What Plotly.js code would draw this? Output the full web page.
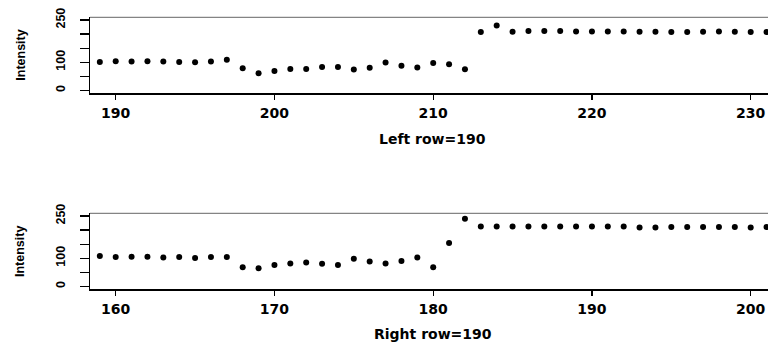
<!DOCTYPE html>
<html>
<head>
<meta charset="utf-8">
<script src="https://cdn.plot.ly/plotly-3.0.1.min.js"></script>
<style>html,body{margin:0;padding:0;background:#fff;}#chart{width:768px;height:345px;}</style>
</head>
<body>
<div id="chart"></div>
<script>
var leftX = [189,190,191,192,193,194,195,196,197,198,199,200,201,202,203,204,205,206,207,208,209,210,211,212,213,214,215,216,217,218,219,220,221,222,223,224,225,226,227,228,229,230,231];
var leftY = [101,103,102,103,102,101,100,102,109,78,61,69,76,76,83,83,74,80,99,87,81,97,93,75,207,230,208,211,211,211,209,209,209,209,208,208,207,207,208,209,208,207,207];
var rightX = [159,160,161,162,163,164,165,166,167,168,169,170,171,172,173,174,175,176,177,178,179,180,181,182,183,184,185,186,187,188,189,190,191,192,193,194,195,196,197,198,199,200,201];
var rightY = [108,104,105,105,102,104,101,104,104,68,64,76,81,85,80,76,98,88,81,90,102,68,154,240,213,213,213,213,213,213,213,213,213,213,209,209,211,211,211,211,211,209,211];
var yTickVals = [0,50,100,150,200,250];
var yTickText = ["0","","100","","","250"];
var titleTop = "Left row=190";
var titleBottom = "Right row=190";
var yTitle = "Intensity";

var marker = {color:'black', size:6, symbol:'circle'};
var traces = [
  {x:leftX, y:leftY, type:'scatter', mode:'markers', marker:marker, xaxis:'x', yaxis:'y', hoverinfo:'x+y'},
  {x:rightX, y:rightY, type:'scatter', mode:'markers', marker:marker, xaxis:'x2', yaxis:'y2', hoverinfo:'x+y'}
];

var xFont = {family:'DejaVu Sans', size:14, color:'black', weight:'bold'};
var yFont = {family:'Liberation Sans', size:12.5, color:'black', weight:'bold'};
var yTitleFont = {family:'Liberation Sans', size:12.5, color:'black', weight:'bold'};
var xDom = [90/768, 1];

function xa(range, anchor){
  return {domain:xDom, range:range, anchor:anchor, showline:true, linecolor:'black', linewidth:1.3,
    ticks:'outside', ticklen:5, tickcolor:'black', tickwidth:1.2, showgrid:false, zeroline:false,
    tick0:0, dtick:10, tickfont:xFont, ticklabelstandoff:2, fixedrange:true};
}
function ya(domain, anchor){
  return {domain:domain, range:[-10.7,259.6], anchor:anchor, showline:true, linecolor:'black', linewidth:1.3,
    ticks:'outside', ticklen:9, tickcolor:'black', tickwidth:1.2, showgrid:false, zeroline:false,
    tickmode:'array', tickvals:yTickVals, ticktext:yTickText, tickangle:-90, tickfont:yFont,
    ticklabelstandoff:10, fixedrange:true};
}

var layout = {
  width:768, height:345, margin:{l:0,r:0,t:0,b:0}, showlegend:false,
  paper_bgcolor:'white', plot_bgcolor:'white',
  xaxis: xa([188.381, 231.09], 'y'),
  yaxis: ya([1-93.3/345, 1-17.3/345], 'x'),
  xaxis2: xa([158.381, 201.09], 'y2'),
  yaxis2: ya([1-289.3/345, 1-213.3/345], 'x2'),
  shapes: [
    {type:'line', xref:'paper', yref:'y domain', x0:xDom[0], x1:1, y0:1, y1:1, line:{color:'#666', width:1}},
    {type:'line', xref:'paper', yref:'y2 domain', x0:xDom[0], x1:1, y0:1, y1:1, line:{color:'#666', width:1}}
  ],
  annotations: [
    {text:titleTop, xref:'paper', yref:'paper', x:432/768, y:1-139.3/345, xanchor:'center', yanchor:'middle', showarrow:false, font:xFont},
    {text:titleBottom, xref:'paper', yref:'paper', x:433/768, y:1-334.3/345, xanchor:'center', yanchor:'middle', showarrow:false, font:xFont},
    {text:yTitle, xref:'paper', yref:'paper', x:20.7/768, y:1-55/345, xanchor:'center', yanchor:'middle', textangle:-90, showarrow:false, font:yTitleFont},
    {text:yTitle, xref:'paper', yref:'paper', x:20.7/768, y:1-251.3/345, xanchor:'center', yanchor:'middle', textangle:-90, showarrow:false, font:yTitleFont}
  ]
};
Plotly.newPlot('chart', traces, layout, {displayModeBar:false, staticPlot:true});
</script>
</body>
</html>
